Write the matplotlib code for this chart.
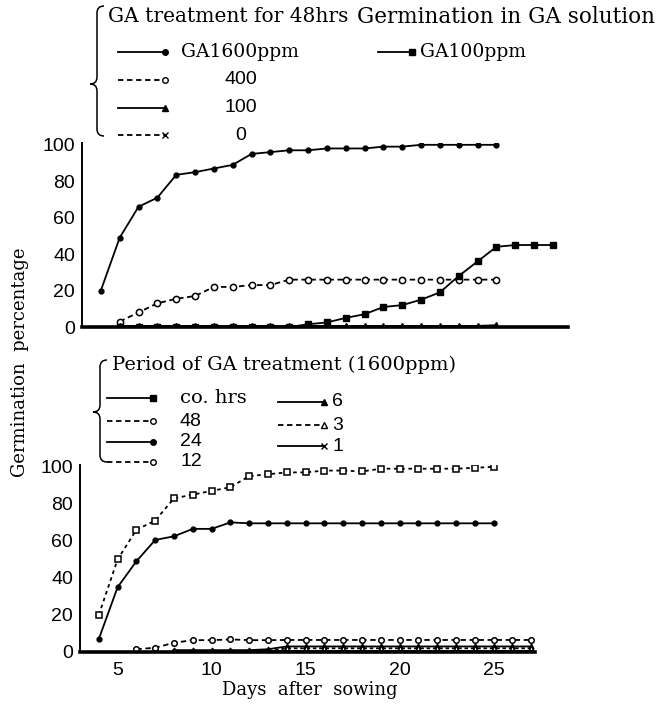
import matplotlib
matplotlib.use("Agg")
import matplotlib.pyplot as plt
from matplotlib.lines import Line2D
from matplotlib.path import Path
from matplotlib.patches import PathPatch

# ---- data ----
# upper panel: GA treatment for 48 hrs / germination in GA solution
days_1600 = list(range(4, 26))
ga1600 = [20, 49, 66, 71, 83.5, 85, 87, 89, 95, 96, 97, 97, 98, 98,
          98, 99, 99, 100, 100, 100, 100, 100]
days_400 = list(range(5, 26))
ga400 = [3, 8, 13, 15.5, 17, 22, 22, 23, 23, 26, 26, 26, 26, 26, 26,
         26, 26, 26, 26, 26, 26]
days_low = list(range(5, 26))
ga100 = [0.6] * 20 + [1]
ga0 = [0] * 21
days_sol = list(range(5, 29))
ga100_sol = [0, 0, 0, 0, 0, 0, 0, 0, 0, 0, 1.5, 2.5, 5, 7, 11, 12, 15,
             19, 28, 36, 44, 45, 45, 45]

# lower panel: period of GA treatment (1600 ppm)
days_48 = list(range(4, 26))
hrs48 = [20, 50, 66, 71, 83, 85, 87, 89, 95, 96, 97, 97, 98,
         98, 97.5, 99, 99, 99, 99, 99, 99.5, 100]
days_24 = list(range(4, 26))
hrs24 = [7, 35, 49, 60.5, 62.5, 66.5, 66.5, 70] + [69.5] * 14
days_12 = list(range(6, 28))
hrs12 = [1.5, 2.3, 5, 6.4, 6.4, 6.8, 6.4, 6.4] + [6.5] * 14
days_short = list(range(8, 28))
hrs6 = [1, 1, 1, 1, 1, 1.5] + [3] * 14
hrs3 = [0.5] * 6 + [2] * 14
hrs1 = [0.3] * 20

x_ticks = [5, 10, 15, 20, 25]
y_ticks = [0, 20, 40, 60, 80, 100]

W, H = 666, 706
num_font = "Liberation Sans"
txt_font = "DejaVu Serif"


def fx(x):
    return x / W


def fy(y):
    return 1 - y / H


fig = plt.figure(figsize=(W / 100, H / 100), dpi=100)


def style_axes(ax):
    for s in ("top", "right"):
        ax.spines[s].set_visible(False)
    ax.spines["left"].set_linewidth(1.4)
    ax.spines["bottom"].set_linewidth(2.6)
    ax.set_ylim(0, 101)
    ax.set_yticks(y_ticks)
    ax.tick_params(length=0, labelsize=14, pad=5)
    for lab in ax.get_yticklabels() + ax.get_xticklabels():
        lab.set_fontfamily(num_font)


lw = 1.3
# ---- upper panel ----
ax1 = fig.add_axes([fx(82), fy(327), fx(568 - 82), (327 - 143) / H])
style_axes(ax1)
ax1.set_xlim(3, 28.8)
ax1.set_xticks([])
ax1.plot(days_1600, ga1600, "-", color="k", lw=lw, marker="o", ms=3.5)
ax1.plot(days_400, ga400, color="k", lw=lw, ls=(0, (3, 2)), marker="o",
         ms=4.5, mfc="white", mew=1.1)
ax1.plot(days_low, ga100, "-", color="k", lw=lw, marker="^", ms=4)
ax1.plot(days_low, ga0, color="k", lw=lw, ls=(0, (3, 2)), marker="x", ms=3)
ax1.plot(days_sol, ga100_sol, "-", color="k", lw=lw, marker="s", ms=4)

# ---- lower panel ----
ax2 = fig.add_axes([fx(80), fy(652), fx(535 - 80), (652 - 465) / H])
style_axes(ax2)
ax2.set_xlim(3, 27.2)
ax2.set_xticks(x_ticks)
ax2.tick_params(axis="x", pad=7)
for lab in ax2.get_xticklabels():
    lab.set_fontfamily(num_font)
ax2.plot(days_48, hrs48, color="k", lw=lw, ls=(0, (2, 2)), marker="s",
         ms=4, mfc="white", mew=1.1)
ax2.plot(days_24, hrs24, "-", color="k", lw=lw, marker="o", ms=3.5)
ax2.plot(days_12, hrs12, color="k", lw=lw, ls=(0, (3, 2)), marker="o",
         ms=4, mfc="white", mew=1.1)
ax2.plot(days_short, hrs6, "-", color="k", lw=lw, marker="^", ms=3.5)
ax2.plot(days_short, hrs3, color="k", lw=lw, ls=(0, (2, 1.5)), marker="^",
         ms=3.5, mfc="white")
ax2.plot(days_short, hrs1, "-", color="k", lw=lw, marker="x", ms=3)

# ---- axis titles ----
fig.text(fx(20), fy(362), "Germination  percentage", rotation=90,
         ha="center", va="center", fontsize=13, family=txt_font)
fig.text(fx(310), fy(690), "Days  after  sowing", ha="center",
         va="center", fontsize=13, family=txt_font)


# ---- hand-drawn legend blocks ----
def brace(x, y0, y1, ym):
    d = 7
    verts = [(x + d, y0), (x, y0), (x, y0 + d),
             (x, ym - d), (x, ym), (x - d, ym),
             (x, ym), (x, ym + d),
             (x, y1 - d), (x, y1), (x + d, y1)]
    codes = [Path.MOVETO, Path.CURVE3, Path.CURVE3,
             Path.LINETO, Path.CURVE3, Path.CURVE3,
             Path.CURVE3, Path.CURVE3,
             Path.LINETO, Path.CURVE3, Path.CURVE3]
    pts = [(fx(a), fy(b)) for a, b in verts]
    fig.add_artist(PathPatch(Path(pts, codes), fill=False, lw=1.1,
                             color="k", transform=fig.transFigure))


def sample(x0, x1, y, ls, marker, open_marker=False, ms=4):
    fig.add_artist(Line2D([fx(x0), fx(x1)], [fy(y), fy(y)], color="k",
                          lw=lw, ls=ls, marker=marker, markevery=[1], ms=ms,
                          mfc="white" if open_marker else "k", mew=1,
                          transform=fig.transFigure))


dash = (0, (3, 2))
brace(97, 6, 136, 84)
fig.text(fx(108), fy(17), "GA treatment for 48hrs", va="center",
         fontsize=14.5, family=txt_font)
fig.text(fx(357), fy(17), "Germination in GA solution", va="center",
         fontsize=15.5, family=txt_font)
rows_top = [52, 80, 108, 135]
sample(118, 165, rows_top[0], "-", "o")
fig.text(fx(181), fy(rows_top[0]), "GA1600ppm", va="center", fontsize=13.5,
         family=txt_font)
sample(378, 412, rows_top[0], "-", "s")
fig.text(fx(420), fy(rows_top[0]), "GA100ppm", va="center", fontsize=13.5,
         family=txt_font)
sample(118, 165, rows_top[1], dash, "o", True)
fig.text(fx(241), fy(rows_top[1]), "400", ha="center", va="center",
         fontsize=14, family=num_font)
sample(118, 165, rows_top[2], "-", "^")
fig.text(fx(241), fy(rows_top[2]), "100", ha="center", va="center",
         fontsize=14, family=num_font)
sample(118, 165, rows_top[3], dash, "x")
fig.text(fx(241), fy(rows_top[3]), "0", ha="center", va="center",
         fontsize=14, family=num_font)

brace(100, 360, 462, 412)
fig.text(fx(112), fy(365), "Period of GA treatment (1600ppm)", va="center",
         fontsize=14, family=txt_font)
rows_bot = [398, 421, 442, 462]
left_labels = ["co. hrs", "48", "24", "12"]
left_styles = [("-", "s", False), (dash, "o", True), ("-", "o", False),
               (dash, "o", True)]
for y, lab, (ls, mk, op) in zip(rows_bot, left_labels, left_styles):
    sample(107, 153, y, ls, mk, op)
    fig.text(fx(180), fy(y), lab, va="center", fontsize=14,
             family=[txt_font] if "hrs" in lab else [num_font])
right_labels = ["6", "3", "1"]
right_styles = [("-", "^", False), (dash, "^", True), ("-", "x", False)]
for y, lab, (ls, mk, op) in zip(rows_bot[:3], right_labels, right_styles):
    sample(278, 324, y + 4, ls, mk, op)
    fig.text(fx(332), fy(y + 4), lab, va="center", fontsize=14,
             family=num_font)

fig.savefig("out.png", dpi=100)
